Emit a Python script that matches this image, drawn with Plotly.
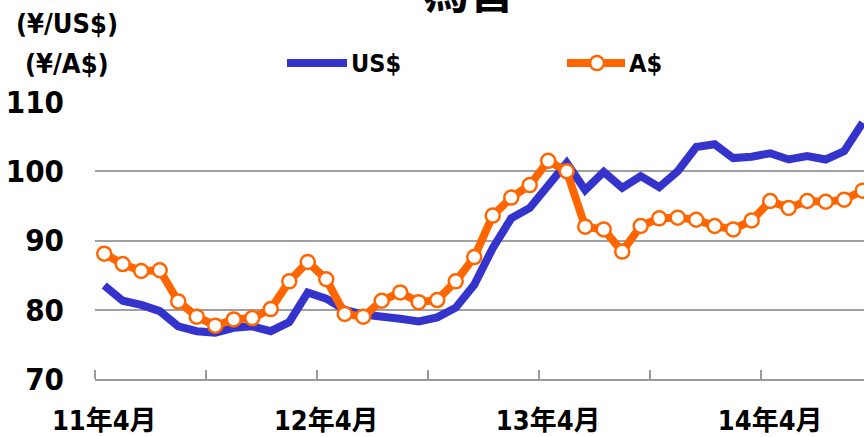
import plotly.graph_objects as go

months = list(range(42))  # 2011-04 .. 2014-09
tick_pos = [0, 12, 24, 36]
tick_labels = ["11年4月", "12年4月", "13年4月", "14年4月"]

usd = [83.5, 81.3, 80.7, 79.8, 77.6, 76.9, 76.7, 77.4, 77.6, 76.9, 78.2, 82.5,
       81.6, 80.0, 79.3, 79.1, 78.7, 78.3, 78.9, 80.3, 83.6, 88.9, 93.2, 94.7,
       97.8, 101.2, 97.3, 99.9, 97.6, 99.3, 97.7, 100.0, 103.5, 103.9, 101.9, 102.1,
       102.6, 101.7, 102.2, 101.7, 102.9, 107.0]
aud = [88.1, 86.6, 85.6, 85.7, 81.2, 79.0, 77.7, 78.6, 78.8, 80.1, 84.1, 86.9,
       84.4, 79.4, 79.0, 81.3, 82.5, 81.1, 81.4, 84.1, 87.6, 93.6, 96.2, 98.0,
       101.5, 100.0, 92.0, 91.6, 88.4, 92.1, 93.2, 93.3, 93.0, 92.1, 91.6, 92.9,
       95.7, 94.7, 95.7, 95.6, 95.9, 97.2]

BLUE = "#3434CC"
ORANGE = "#FF6600"
NUM_FONT = "DejaVu Sans Condensed, Noto Sans CJK JP"

fig = go.Figure()
fig.add_trace(go.Scatter(x=months, y=usd, mode="lines", name="US$",
                         line=dict(color=BLUE, width=8), cliponaxis=False))
fig.add_trace(go.Scatter(x=months, y=aud, mode="lines+markers", name="A$",
                         line=dict(color=ORANGE, width=8),
                         marker=dict(size=14, color="white", line=dict(color=ORANGE, width=2.5)),
                         cliponaxis=False))

W, H = 864, 437
L, R, T = 95, 0, 102
PLOT_BOTTOM = 379.5
B = H - PLOT_BOTTOM
pw, ph = W - L - R, H - T - B

def px(p):
    return (p - L) / pw

def py(q):
    return (PLOT_BOTTOM - q) / ph

shapes = [
    dict(type="line", xref="paper", yref="paper", x0=px(287), x1=px(347), y0=py(63), y1=py(63),
         line=dict(color=BLUE, width=8)),
    dict(type="line", xref="paper", yref="paper", x0=px(567), x1=px(625), y0=py(63), y1=py(63),
         line=dict(color=ORANGE, width=8)),
    dict(type="circle", xref="paper", yref="paper", x0=px(590), x1=px(604), y0=py(70), y1=py(56),
         fillcolor="white", line=dict(color=ORANGE, width=2.5)),
]

bold = dict(family=NUM_FONT, color="black", weight="bold")
annotations = [
    dict(text="為替", xref="paper", yref="paper", x=px(469), y=py(-12), showarrow=False,
         xanchor="center", yanchor="middle", font=dict(family="Noto Sans CJK JP", size=46, color="black", weight="bold")),
    dict(text="(¥/US$)", xref="paper", yref="paper", x=px(67), y=py(23), showarrow=False,
         xanchor="center", yanchor="middle", font=dict(bold, size=27)),
    dict(text="(¥/A$)", xref="paper", yref="paper", x=px(67), y=py(63), showarrow=False,
         xanchor="center", yanchor="middle", font=dict(bold, size=27)),
    dict(text="US$", xref="paper", yref="paper", x=px(349), y=py(63), showarrow=False,
         xanchor="left", yanchor="middle", font=dict(bold, size=25)),
    dict(text="A$", xref="paper", yref="paper", x=px(627), y=py(63), showarrow=False,
         xanchor="left", yanchor="middle", font=dict(bold, size=25)),
]

fig.update_layout(
    width=W, height=H,
    margin=dict(l=L, r=R, t=T, b=B, pad=0),
    plot_bgcolor="white", paper_bgcolor="white",
    showlegend=False,
    shapes=shapes, annotations=annotations,
    xaxis=dict(range=[-0.5, 41.07], tickmode="array", tickvals=tick_pos, ticktext=tick_labels,
               ticks="", showgrid=False, zeroline=False, automargin=False,
               showline=True, linecolor="#999999", linewidth=2,
               tickfont=dict(bold, size=27), ticklabelstandoff=17,
               minor=dict(tickmode="array", tickvals=[-0.5, 5.5, 11.5, 17.5, 23.5, 29.5, 35.5, 41.5],
                          ticks="inside", ticklen=9, tickcolor="#999999", tickwidth=2, showgrid=False)),
    yaxis=dict(range=[70, 110], tickvals=[70, 80, 90, 100, 110], ticks="", automargin=False,
               showgrid=True, gridcolor="#A0A0A0", gridwidth=2, zeroline=False, showline=False,
               tickfont=dict(bold, size=31), ticklabelstandoff=30),
)

# remove the default page margin so the figure fills the window exactly
fig.write_html("out.html", config={"displayModeBar": False},
               post_script="document.body.style.margin='0';document.body.style.overflow='hidden';")
